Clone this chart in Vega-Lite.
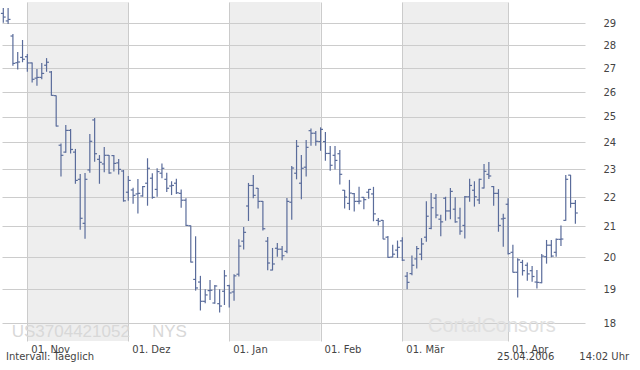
{
  "$schema": "https://vega.github.io/schema/vega-lite/v6.json",
  "width": 583,
  "height": 339,
  "autosize": "none",
  "padding": {"left": 2, "top": 2, "right": 55, "bottom": 29},
  "background": "white",
  "config": {"view": {"stroke": null}, "font": "DejaVu Sans"},
  "datasets": {
    "bands": [
      {"month": "Nov", "s": 5, "e": 26},
      {"month": "Jan", "s": 47, "e": 66},
      {"month": "Mar", "s": 83, "e": 105}
    ],
    "notes": [{"id": 1}],
    "ohlc": [
      {"t":0,"o":29.46,"h":29.71,"l":29.03,"c":29.29},
      {"t":1,"o":29.11,"h":29.71,"l":28.97,"c":29.18},
      {"t":2,"o":28.42,"h":28.51,"l":27.11,"c":27.21},
      {"t":3,"o":27.24,"h":27.71,"l":26.95,"c":27.27},
      {"t":4,"o":27.47,"h":28.24,"l":27.26,"c":27.39},
      {"t":5,"o":27.50,"h":27.62,"l":26.85,"c":27.23},
      {"t":6,"o":27.23,"h":27.25,"l":26.40,"c":26.53},
      {"t":7,"o":26.58,"h":26.97,"l":26.26,"c":26.61},
      {"t":8,"o":26.61,"h":27.23,"l":26.53,"c":26.78},
      {"t":9,"o":27.13,"h":27.44,"l":26.85,"c":27.26},
      {"t":10,"o":26.84,"h":26.88,"l":25.85,"c":25.86},
      {"t":11,"o":25.85,"h":25.86,"l":24.61,"c":24.63},
      {"t":12,"o":23.89,"h":23.96,"l":22.73,"c":23.51},
      {"t":13,"o":23.63,"h":24.67,"l":23.61,"c":24.46},
      {"t":14,"o":24.46,"h":24.51,"l":23.58,"c":23.73},
      {"t":15,"o":23.63,"h":23.75,"l":22.47,"c":22.59},
      {"t":16,"o":22.63,"h":22.82,"l":20.89,"c":21.27},
      {"t":17,"o":21.10,"h":22.86,"l":20.59,"c":22.63},
      {"t":18,"o":22.97,"h":24.32,"l":22.87,"c":24.04},
      {"t":19,"o":24.87,"h":24.95,"l":23.27,"c":23.57},
      {"t":20,"o":23.36,"h":23.52,"l":22.47,"c":23.25},
      {"t":21,"o":23.19,"h":23.82,"l":22.89,"c":23.51},
      {"t":22,"o":23.51,"h":23.52,"l":22.83,"c":22.86},
      {"t":23,"o":23.50,"h":23.52,"l":22.91,"c":23.21},
      {"t":24,"o":23.23,"h":23.37,"l":22.80,"c":22.99},
      {"t":25,"o":22.93,"h":22.97,"l":21.84,"c":21.87},
      {"t":26,"o":22.17,"h":22.75,"l":21.87,"c":22.59},
      {"t":27,"o":22.25,"h":22.33,"l":21.77,"c":22.06},
      {"t":28,"o":22.11,"h":22.64,"l":21.43,"c":22.13},
      {"t":29,"o":22.04,"h":22.39,"l":22.01,"c":22.37},
      {"t":30,"o":22.49,"h":23.40,"l":21.70,"c":23.03},
      {"t":31,"o":22.67,"h":22.85,"l":21.94,"c":21.99},
      {"t":32,"o":22.27,"h":23.03,"l":22.01,"c":22.91},
      {"t":33,"o":22.85,"h":23.21,"l":22.67,"c":23.03},
      {"t":34,"o":22.63,"h":22.87,"l":22.18,"c":22.31},
      {"t":35,"o":22.39,"h":22.56,"l":22.07,"c":22.41},
      {"t":36,"o":22.49,"h":22.65,"l":22.11,"c":22.15},
      {"t":37,"o":22.13,"h":22.27,"l":21.63,"c":21.89},
      {"t":38,"o":21.89,"h":21.96,"l":21.01,"c":21.03},
      {"t":39,"o":21.02,"h":21.03,"l":19.83,"c":19.84},
      {"t":40,"o":19.30,"h":20.67,"l":18.96,"c":19.04},
      {"t":41,"o":19.22,"h":19.41,"l":18.37,"c":18.64},
      {"t":42,"o":18.64,"h":19.00,"l":18.58,"c":18.83},
      {"t":43,"o":18.96,"h":19.28,"l":18.68,"c":18.97},
      {"t":44,"o":18.59,"h":19.13,"l":18.57,"c":19.10},
      {"t":45,"o":18.57,"h":19.00,"l":18.31,"c":18.50},
      {"t":46,"o":18.94,"h":19.59,"l":18.53,"c":19.41},
      {"t":47,"o":19.11,"h":19.14,"l":18.46,"c":18.89},
      {"t":48,"o":18.92,"h":19.46,"l":18.66,"c":19.41},
      {"t":49,"o":19.46,"h":20.57,"l":19.39,"c":20.35},
      {"t":50,"o":20.51,"h":20.98,"l":20.24,"c":20.80},
      {"t":51,"o":21.69,"h":22.50,"l":21.18,"c":22.41},
      {"t":52,"o":22.41,"h":22.79,"l":21.96,"c":22.06},
      {"t":53,"o":22.31,"h":22.32,"l":21.60,"c":21.85},
      {"t":54,"o":21.85,"h":21.86,"l":20.86,"c":20.92},
      {"t":55,"o":20.51,"h":20.65,"l":19.58,"c":19.81},
      {"t":56,"o":19.59,"h":20.29,"l":19.58,"c":19.78},
      {"t":57,"o":20.28,"h":20.45,"l":20.01,"c":20.25},
      {"t":58,"o":20.25,"h":20.35,"l":19.90,"c":20.04},
      {"t":59,"o":20.18,"h":21.97,"l":20.12,"c":21.85},
      {"t":60,"o":21.82,"h":23.11,"l":21.22,"c":23.04},
      {"t":61,"o":22.85,"h":24.09,"l":22.63,"c":23.85},
      {"t":62,"o":22.49,"h":23.52,"l":21.92,"c":23.03},
      {"t":63,"o":23.07,"h":24.09,"l":22.73,"c":23.81},
      {"t":64,"o":24.45,"h":24.53,"l":23.87,"c":24.35},
      {"t":65,"o":24.35,"h":24.44,"l":23.87,"c":24.04},
      {"t":66,"o":24.03,"h":24.58,"l":23.68,"c":24.50},
      {"t":67,"o":24.03,"h":24.40,"l":23.31,"c":23.58},
      {"t":68,"o":23.58,"h":23.86,"l":22.94,"c":23.14},
      {"t":69,"o":23.51,"h":23.86,"l":22.99,"c":23.32},
      {"t":70,"o":23.57,"h":23.71,"l":22.44,"c":22.81},
      {"t":71,"o":22.24,"h":22.25,"l":21.60,"c":22.00},
      {"t":72,"o":21.78,"h":22.61,"l":21.55,"c":22.14},
      {"t":73,"o":22.12,"h":22.14,"l":21.50,"c":21.85},
      {"t":74,"o":21.85,"h":22.36,"l":21.75,"c":21.86},
      {"t":75,"o":21.99,"h":22.00,"l":21.58,"c":21.91},
      {"t":76,"o":22.17,"h":22.28,"l":21.94,"c":22.27},
      {"t":77,"o":22.11,"h":22.36,"l":21.17,"c":21.42},
      {"t":78,"o":21.20,"h":21.28,"l":21.03,"c":21.17},
      {"t":79,"o":21.20,"h":21.21,"l":20.57,"c":20.58},
      {"t":80,"o":20.64,"h":20.68,"l":19.98,"c":19.99},
      {"t":81,"o":20.00,"h":20.39,"l":19.99,"c":20.09},
      {"t":82,"o":20.22,"h":20.53,"l":19.97,"c":20.31},
      {"t":83,"o":20.52,"h":20.64,"l":19.87,"c":19.90},
      {"t":84,"o":19.40,"h":19.53,"l":19.00,"c":19.21},
      {"t":85,"o":19.48,"h":20.05,"l":19.43,"c":19.74},
      {"t":86,"o":19.94,"h":20.35,"l":19.64,"c":20.27},
      {"t":87,"o":20.09,"h":20.61,"l":19.90,"c":20.42},
      {"t":88,"o":20.64,"h":21.85,"l":20.49,"c":21.34},
      {"t":89,"o":20.93,"h":22.14,"l":20.90,"c":21.63},
      {"t":90,"o":21.96,"h":22.11,"l":21.27,"c":21.38},
      {"t":91,"o":21.24,"h":21.39,"l":20.67,"c":21.15},
      {"t":92,"o":21.96,"h":22.01,"l":21.19,"c":21.52},
      {"t":93,"o":21.52,"h":22.32,"l":21.24,"c":22.20},
      {"t":94,"o":21.58,"h":21.99,"l":21.12,"c":21.15},
      {"t":95,"o":21.28,"h":21.63,"l":20.72,"c":20.84},
      {"t":96,"o":21.03,"h":22.04,"l":20.60,"c":22.01},
      {"t":97,"o":22.01,"h":22.65,"l":21.84,"c":22.41},
      {"t":98,"o":22.24,"h":22.56,"l":21.67,"c":22.01},
      {"t":99,"o":21.90,"h":22.65,"l":21.76,"c":22.63},
      {"t":100,"o":22.32,"h":23.19,"l":22.30,"c":22.92},
      {"t":101,"o":22.81,"h":23.26,"l":22.64,"c":22.75},
      {"t":102,"o":22.37,"h":22.39,"l":21.70,"c":22.13},
      {"t":103,"o":22.13,"h":22.28,"l":20.82,"c":21.03},
      {"t":104,"o":21.25,"h":21.42,"l":20.33,"c":21.27},
      {"t":105,"o":21.75,"h":21.96,"l":20.08,"c":20.11},
      {"t":106,"o":20.15,"h":20.39,"l":19.51,"c":19.52},
      {"t":107,"o":19.52,"h":19.96,"l":18.75,"c":19.91},
      {"t":108,"o":19.83,"h":19.91,"l":19.42,"c":19.57},
      {"t":109,"o":19.74,"h":19.83,"l":19.26,"c":19.47},
      {"t":110,"o":19.57,"h":19.72,"l":19.23,"c":19.39},
      {"t":111,"o":19.22,"h":19.59,"l":19.02,"c":19.21},
      {"t":112,"o":19.20,"h":20.10,"l":19.18,"c":20.03},
      {"t":113,"o":20.01,"h":20.55,"l":19.79,"c":20.38},
      {"t":114,"o":20.38,"h":20.55,"l":19.99,"c":20.03},
      {"t":115,"o":20.15,"h":20.60,"l":20.01,"c":20.57},
      {"t":116,"o":20.57,"h":21.03,"l":20.35,"c":20.58},
      {"t":117,"o":21.20,"h":22.79,"l":21.19,"c":22.63},
      {"t":118,"o":22.78,"h":22.79,"l":21.63,"c":21.78},
      {"t":119,"o":21.78,"h":21.90,"l":21.09,"c":21.45}
    ]
  },
  "layer": [
    {
      "data": {"name": "bands"},
      "mark": {"type": "rect", "fill": "#cccccc", "opacity": 0.33},
      "encoding": {
        "x": {
          "field": "s", "type": "quantitative",
          "scale": {"domain": [-0.27, 121], "nice": false, "zero": false},
          "axis": {
            "orient": "bottom", "values": [5, 26, 47, 66, 83, 105],
            "labelExpr": "['01. Nov','01. Dez','01. Jan','01. Feb','01. M\u00e4r','01. Apr'][indexof([5,26,47,66,83,105], datum.value)]",
            "grid": true, "gridColor": "#cccccc", "gridWidth": 1,
            "domain": false, "ticks": false, "labelPadding": 3,
            "labelAlign": "left", "labelOffset": 3.5, "labelBaseline": "top",
            "labelFont": "DejaVu Sans", "labelFontSize": 10, "labelColor": "#444444",
            "labelOverlap": false, "title": null
          }
        },
        "x2": {"field": "e"}
      }
    },
    {
      "data": {"name": "notes"},
      "mark": {"type": "text", "text": "US3704421052", "align": "left", "baseline": "alphabetic", "font": "Liberation Sans", "fontSize": 17, "color": "#d8d8d8"},
      "encoding": {"x": {"datum": 1.75, "type": "quantitative"}, "y": {"datum": 17.62, "type": "quantitative"}}
    },
    {
      "data": {"name": "notes"},
      "mark": {"type": "text", "text": "NYS", "align": "left", "baseline": "alphabetic", "font": "Liberation Sans", "fontSize": 17, "color": "#d8d8d8"},
      "encoding": {"x": {"datum": 30.93, "type": "quantitative"}, "y": {"datum": 17.62, "type": "quantitative"}}
    },
    {
      "data": {"name": "notes"},
      "mark": {"type": "text", "text": "CortalConsors", "align": "left", "baseline": "alphabetic", "font": "Liberation Sans", "fontSize": 20, "color": "#e0e0e0"},
      "encoding": {"x": {"datum": 88.35, "type": "quantitative"}, "y": {"datum": 17.76, "type": "quantitative"}}
    },
    {
      "data": {"name": "ohlc"},
      "mark": {"type": "rule", "color": "#5a6c9b", "strokeWidth": 1.2},
      "encoding": {
        "x": {"field": "t", "type": "quantitative", "scale": {"domain": [-0.27, 121], "nice": false, "zero": false}},
        "y": {
          "field": "l", "type": "quantitative",
          "scale": {"type": "log", "domain": [17.5, 30], "nice": false, "zero": false},
          "axis": {
            "orient": "right", "values": [18, 19, 20, 21, 22, 23, 24, 25, 26, 27, 28, 29],
            "grid": true, "gridColor": "#cccccc", "gridWidth": 1,
            "domain": false, "ticks": false, "labelPadding": 18, "labelAlign": "left",
            "labelFont": "DejaVu Sans", "labelFontSize": 10, "labelColor": "#444444",
            "title": null
          }
        },
        "y2": {"field": "h"}
      }
    },
    {
      "data": {"name": "ohlc"},
      "mark": {"type": "rule", "color": "#5a6c9b", "strokeWidth": 1.2, "xOffset": -2.4, "x2Offset": 0},
      "encoding": {
        "x": {"field": "t", "type": "quantitative", "scale": {"domain": [-0.27, 121], "nice": false, "zero": false}},
        "x2": {"field": "t"},
        "y": {"field": "o", "type": "quantitative", "scale": {"type": "log", "domain": [17.5, 30], "nice": false, "zero": false}}
      }
    },
    {
      "data": {"name": "ohlc"},
      "mark": {"type": "rule", "color": "#5a6c9b", "strokeWidth": 1.2, "xOffset": 0, "x2Offset": 2.4},
      "encoding": {
        "x": {"field": "t", "type": "quantitative", "scale": {"domain": [-0.27, 121], "nice": false, "zero": false}},
        "x2": {"field": "t"},
        "y": {"field": "c", "type": "quantitative", "scale": {"type": "log", "domain": [17.5, 30], "nice": false, "zero": false}}
      }
    },
    {
      "data": {"name": "notes"},
      "mark": {"type": "text", "text": "Intervall: Taeglich", "align": "left", "baseline": "alphabetic", "font": "DejaVu Sans", "fontSize": 10, "color": "#444444"},
      "encoding": {"x": {"datum": 0.56, "type": "quantitative"}, "y": {"datum": 16.97, "type": "quantitative"}}
    },
    {
      "data": {"name": "notes"},
      "mark": {"type": "text", "text": "25.04.2006", "align": "left", "baseline": "alphabetic", "font": "DejaVu Sans", "fontSize": 10, "color": "#444444"},
      "encoding": {"x": {"datum": 102.7, "type": "quantitative"}, "y": {"datum": 16.97, "type": "quantitative"}}
    },
    {
      "data": {"name": "notes"},
      "mark": {"type": "text", "text": "14:02 Uhr", "align": "right", "baseline": "alphabetic", "font": "DejaVu Sans", "fontSize": 10, "color": "#444444"},
      "encoding": {"x": {"datum": 130.17, "type": "quantitative"}, "y": {"datum": 16.97, "type": "quantitative"}}
    }
  ]
}
